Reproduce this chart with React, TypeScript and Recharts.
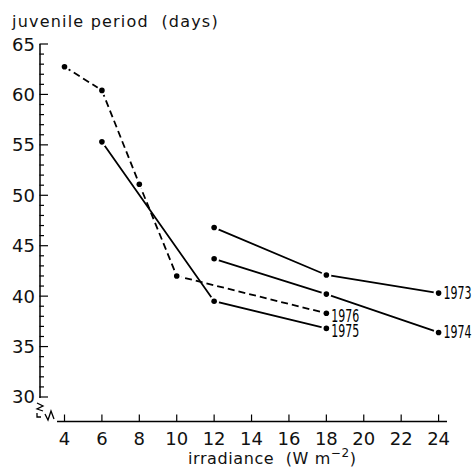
import React from 'react';
import { LineChart, Line, XAxis, YAxis, ReferenceLine, LabelList } from 'recharts';

// irradiance (W m-2) and juvenile period (days) per year
const IRR_1976 = [4, 6, 8, 10, 18];
const DAYS_1976 = [62.75, 60.4, 51.1, 42.0, 38.3];
const IRR_1975 = [6, 12, 18];
const DAYS_1975 = [55.3, 39.5, 36.8];
const IRR_1974 = [12, 18, 24];
const DAYS_1974 = [43.7, 40.2, 36.4];
const IRR_1973 = [12, 18, 24];
const DAYS_1973 = [46.8, 42.1, 40.3];

const X_TICKS = [4, 6, 8, 10, 12, 14, 16, 18, 20, 22, 24];
const Y_TICKS = [
  30, 31, 32, 33, 34, 35, 36, 37, 38, 39, 40, 41, 42, 43, 44, 45, 46, 47,
  48, 49, 50, 51, 52, 53, 54, 55, 56, 57, 58, 59, 60, 61, 62, 63, 64, 65,
];

const X_DOMAIN: [number, number] = [2.69, 24.45];
const Y_DOMAIN: [number, number] = [27.57, 65];

const toPoints = (xs: number[], ys: number[]) => xs.map((x, i) => ({ x, y: ys[i] }));

const FONT = '"DejaVu Sans", sans-serif';
const NARROW = '"DejaVu Sans Condensed", "Liberation Sans Narrow", "DejaVu Sans", sans-serif';

const Dot = (props: any) => {
  const { cx, cy, index } = props;
  return (
    <g key={`d-${index}-${cx}`}>
      <circle cx={cx} cy={cy} r={5} fill="#fff" />
      <circle cx={cx} cy={cy} r={2.8} fill="#000" />
    </g>
  );
};

const YTick = (props: any) => {
  const { x, y, payload } = props;
  const v = payload.value;
  const major = v % 5 === 0;
  return (
    <g>
      <line x1={x - 0.5} y1={y} x2={x + (major ? 8 : 4)} y2={y} stroke="#000" strokeWidth={1.2} />
      {major && (
        <text x={x - 5} y={y} textAnchor="end" dominantBaseline="central" fontSize={18} fontFamily={FONT} fill="#111">
          {v}
        </text>
      )}
    </g>
  );
};

const XTick = (props: any) => {
  const { x, y, payload } = props;
  return (
    <g>
      <line x1={x} y1={y} x2={x} y2={y - 7} stroke="#000" strokeWidth={1.2} />
      <text x={x} y={y + 16.5} textAnchor="middle" dominantBaseline="central" fontSize={18} fontFamily={FONT} fill="#111">
        {payload.value}
      </text>
    </g>
  );
};

const yearLabel = (year: string, last: number, dy: number) => (p: any) =>
  p.index === last ? (
    <text x={p.x + 5} y={p.y + dy} dominantBaseline="central" fontSize={17} fontFamily={NARROW} fill="#000"
      textLength={28} lengthAdjust="spacingAndGlyphs">
      {year}
    </text>
  ) : null;

export default function App() {
  return (
    <div style={{ position: 'absolute', left: 0, top: 0, width: 474, height: 467, background: '#fff' }}>
      <LineChart width={474} height={467} margin={{ top: 44, right: 27, left: 0, bottom: 15.5 }}>
        <XAxis
          type="number"
          dataKey="x"
          domain={X_DOMAIN}
          ticks={X_TICKS}
          interval={0}
          allowDataOverflow
          axisLine={false}
          tickLine={false}
          tickSize={0}
          tickMargin={0}
          height={30}
          tick={<XTick />}
        />
        <YAxis
          type="number"
          dataKey="y"
          domain={Y_DOMAIN}
          ticks={Y_TICKS}
          interval={0}
          allowDataOverflow
          axisLine={false}
          tickLine={false}
          tickSize={0}
          tickMargin={0}
          width={40}
          tick={<YTick />}
        />
        <ReferenceLine
          segment={[{ x: X_DOMAIN[0], y: 65 }, { x: X_DOMAIN[0], y: 29.9 }]}
          stroke="#000"
          strokeWidth={1.5}
          ifOverflow="visible"
        />
        <ReferenceLine
          segment={[{ x: 3.6, y: Y_DOMAIN[0] }, { x: X_DOMAIN[1], y: Y_DOMAIN[0] }]}
          stroke="#000"
          strokeWidth={1.5}
          ifOverflow="visible"
        />
        <Line data={toPoints(IRR_1976, DAYS_1976)} dataKey="y" type="linear" stroke="#000" strokeWidth={1.8}
          strokeDasharray="7 4" dot={Dot} activeDot={false} isAnimationActive={false}>
          <LabelList dataKey="y" content={yearLabel('1976', IRR_1976.length - 1, 2.5)} />
        </Line>
        <Line data={toPoints(IRR_1975, DAYS_1975)} dataKey="y" type="linear" stroke="#000" strokeWidth={1.8}
          dot={Dot} activeDot={false} isAnimationActive={false}>
          <LabelList dataKey="y" content={yearLabel('1975', IRR_1975.length - 1, 2.5)} />
        </Line>
        <Line data={toPoints(IRR_1974, DAYS_1974)} dataKey="y" type="linear" stroke="#000" strokeWidth={1.8}
          dot={Dot} activeDot={false} isAnimationActive={false}>
          <LabelList dataKey="y" content={yearLabel('1974', IRR_1974.length - 1, 0)} />
        </Line>
        <Line data={toPoints(IRR_1973, DAYS_1973)} dataKey="y" type="linear" stroke="#000" strokeWidth={1.8}
          dot={Dot} activeDot={false} isAnimationActive={false}>
          <LabelList dataKey="y" content={yearLabel('1973', IRR_1973.length - 1, 0)} />
        </Line>
      </LineChart>
      {/* titles and axis break marks */}
      <svg style={{ position: 'absolute', left: 0, top: 0, pointerEvents: 'none' }} width={474} height={467}>
        <text x={12} y={27} fontSize={16} fontFamily={FONT} fill="#111" letterSpacing={1.2} style={{ whiteSpace: 'pre' }}>
          {'juvenile period  (days)'}
        </text>
        <text x={188} y={464} fontSize={16} fontFamily={FONT} fill="#111" letterSpacing={0.6} style={{ whiteSpace: 'pre' }}>
          {'irradiance  (W m'}
          <tspan dy={-7} fontSize={12}>{'\u22122'}</tspan>
          <tspan dy={7}>{')'}</tspan>
        </text>
        <path d="M37,403 L43,406 L37,409 L43,411" fill="none" stroke="#000" strokeWidth={1.3} />
        <path d="M37,413 L37,417 L41,417" fill="none" stroke="#000" strokeWidth={1.3} />
        <path d="M45,414 L48,420 L51,411 L54,419" fill="none" stroke="#000" strokeWidth={1.3} />
      </svg>
    </div>
  );
}
